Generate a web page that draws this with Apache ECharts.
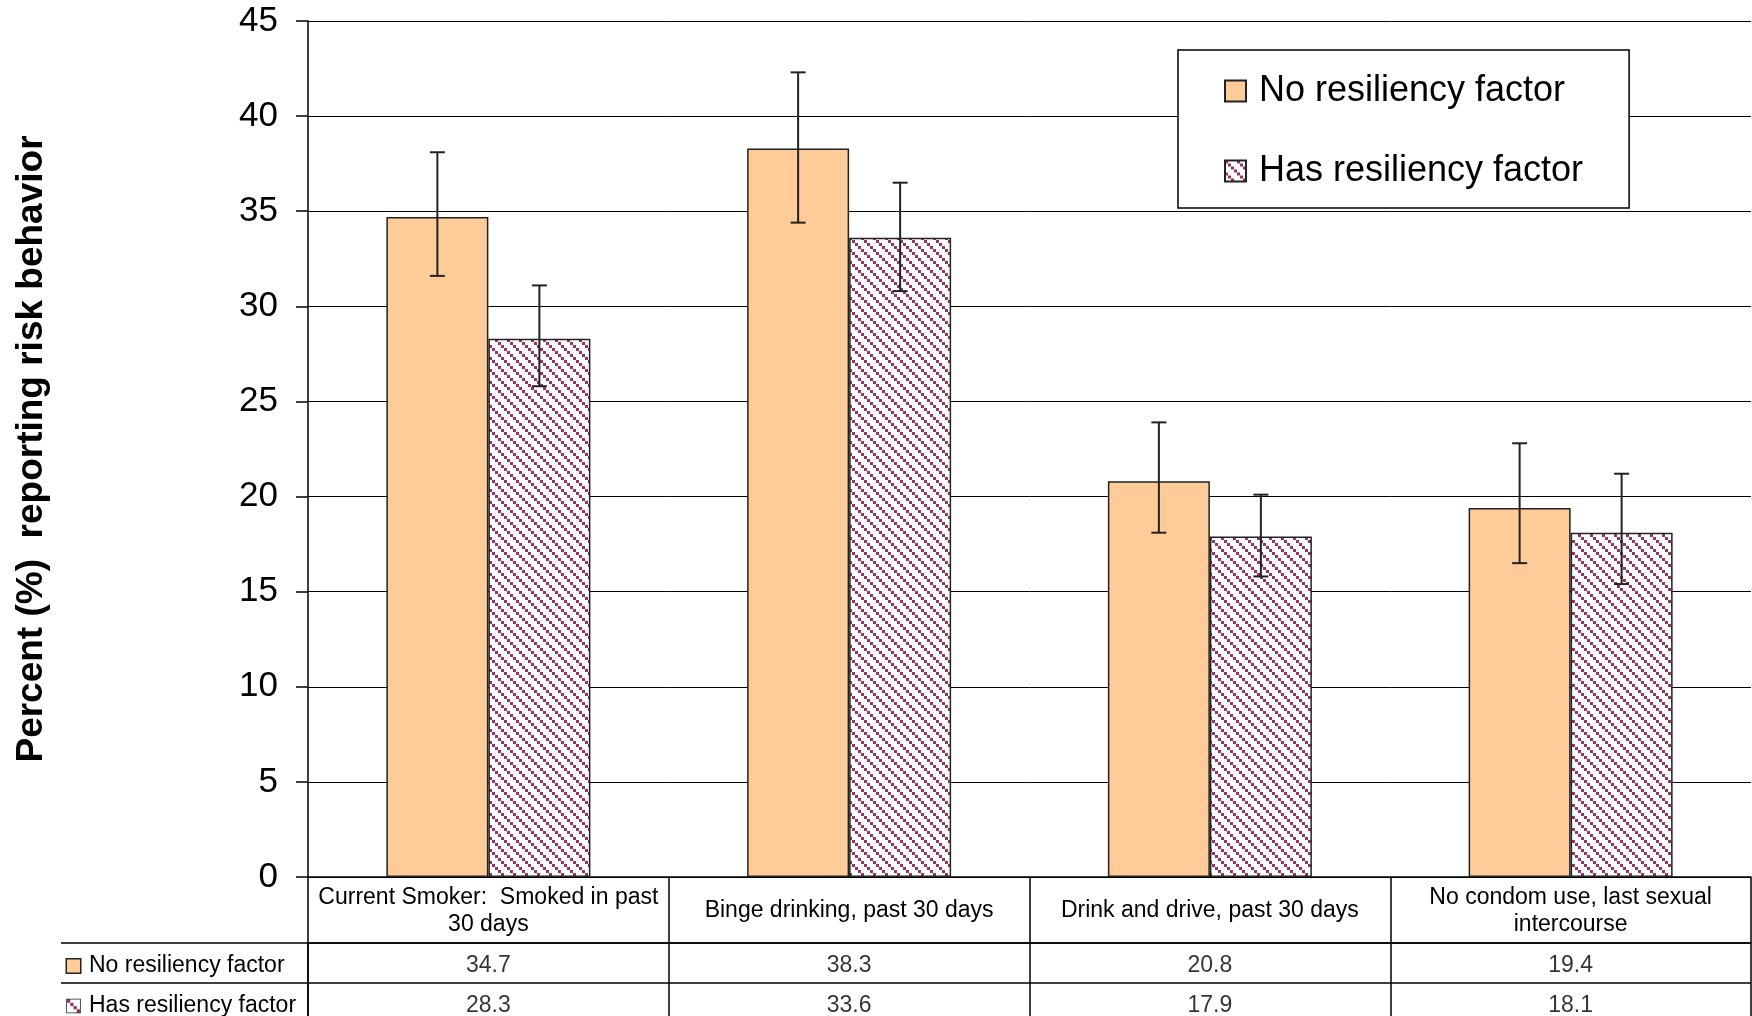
<!DOCTYPE html>
<html>
<head>
<meta charset="utf-8">
<script src="https://cdn.jsdelivr.net/npm/echarts@6/dist/echarts.min.js"></script>
<style>
  html, body { margin: 0; padding: 0; background: #fff; }
  #chart { width: 1752px; height: 1016px; }
</style>
</head>
<body>
<div id="chart"></div>
<script>
    // ---------------------------------------------------------------------------
    // data
    const categories = [
        'Current Smoker:  Smoked in past\n30 days',
        'Binge drinking, past 30 days',
        'Drink and drive, past 30 days',
        'No condom use, last sexual\nintercourse'
    ];
    const seriesNames = ['No resiliency factor', 'Has resiliency factor'];
    const noFactor = [34.7, 38.3, 20.8, 19.4];
    const hasFactor = [28.3, 33.6, 17.9, 18.1];
    // error bar ends (confidence interval)
    const noFactorLow = [31.6, 34.4, 18.1, 16.5];
    const noFactorHigh = [38.1, 42.3, 23.9, 22.8];
    const hasFactorLow = [25.8, 30.8, 15.8, 15.4];
    const hasFactorHigh = [31.1, 36.5, 20.1, 21.2];
    const yMin = 0, yMax = 45, yStep = 5;

    // ---------------------------------------------------------------------------
    const FONT = '"Liberation Sans", Arial, sans-serif';
    const BAR_W = 102;
    const ORANGE = '#FFCC99';
    const PLUM = '#993366';
    const EDGE = '#222';

    // diagonal hatch made of small squares, like the excel pattern fill
    function makeHatch() {
        let c = document.createElement('canvas');
        c.width = 12; c.height = 12;
        let ctx = c.getContext('2d');
        ctx.fillStyle = '#fff';
        ctx.fillRect(0, 0, 12, 12);
        ctx.fillStyle = PLUM;
        [0, 3, 6, 9].forEach(d => ctx.fillRect(d, d, 3, 3));
        return c;
    }
    const hatch = makeHatch();

    function errorBars(low, high, side) {
        return {
            type: 'custom',
            xAxisIndex: 0,
            yAxisIndex: 0,
            z: 10,
            silent: true,
            encode: {x: 0, y: [1, 2]},
            data: low.map((l, i) => [i, l, high[i]]),
            renderItem: function (params, api) {
                let x = api.coord([api.value(0), 0])[0] + side * BAR_W / 2;
                let top = api.coord([api.value(0), api.value(2)])[1];
                let bot = api.coord([api.value(0), api.value(1)])[1];
                let c = 7.5;
                let st = {stroke: EDGE, lineWidth: 2};
                return {
                    type: 'group',
                    children: [
                        {type: 'line', shape: {x1: x, y1: top, x2: x, y2: bot}, style: st},
                        {type: 'line', shape: {x1: x - c, y1: top, x2: x + c, y2: top}, style: st},
                        {type: 'line', shape: {x1: x - c, y1: bot, x2: x + c, y2: bot}, style: st}
                    ]
                };
            }
        };
    }

    // value cells of the data table
    let cells = [];
    noFactor.forEach((v, i) => cells.push([i, 0, v]));
    hasFactor.forEach((v, i) => cells.push([i, 1, v]));

    let chart = echarts.init(document.getElementById('chart'), null, {renderer: 'canvas'});

    chart.setOption({
        animation: false,
        backgroundColor: '#fff',
        textStyle: {fontFamily: FONT, color: '#000'},
        grid: [
            {left: 308, top: 21, width: 1443, height: 856, containLabel: false, outerBoundsMode: 'none'},
            {left: 308, top: 943, width: 1443, height: 80, containLabel: false, outerBoundsMode: 'none'}
        ],
        legend: {
            data: seriesNames,
            orient: 'vertical',
            left: 1178,
            top: 50,
            icon: 'rect',
            itemWidth: 21,
            itemHeight: 21,
            itemGap: 44,
            padding: [23, 46, 19, 46],
            borderColor: '#000',
            borderWidth: 1.5,
            borderRadius: 0,
            backgroundColor: '#fff',
            textStyle: {fontSize: 36, color: '#000', fontFamily: FONT, padding: [0, 0, 0, 8]}
        },
        xAxis: [
            {
                type: 'category',
                gridIndex: 0,
                data: categories,
                axisLine: {show: true, lineStyle: {color: '#000', width: 1.5}},
                axisTick: {show: true, length: 66, alignWithLabel: false, interval: 0, lineStyle: {color: '#000', width: 1.5}},
                axisLabel: {
                    interval: 0, fontSize: 23, lineHeight: 27, color: '#000',
                    verticalAlign: 'middle', align: 'center', margin: 34, fontFamily: FONT
                },
                splitLine: {show: false}
            },
            {
                type: 'category',
                gridIndex: 1,
                position: 'top',
                data: categories,
                axisLine: {show: true, lineStyle: {color: '#000', width: 1.5}},
                axisTick: {show: false},
                axisLabel: {show: false},
                splitLine: {show: true, interval: 0, lineStyle: {color: '#000', width: 1.5}}
            }
        ],
        yAxis: [
            {
                type: 'value',
                gridIndex: 0,
                min: yMin,
                max: yMax,
                interval: yStep,
                name: 'Percent (%)  reporting risk behavior',
                nameLocation: 'middle',
                nameRotate: 90,
                nameGap: 258,
                nameTextStyle: {fontSize: 37, fontWeight: 'bold', color: '#000', fontFamily: FONT},
                axisLine: {show: true, lineStyle: {color: '#000', width: 1.5}},
                axisTick: {show: true, length: 12, lineStyle: {color: '#000', width: 1.5}},
                axisLabel: {fontSize: 35, color: '#000', margin: 30, fontFamily: FONT},
                splitLine: {show: true, lineStyle: {color: '#000', width: 1}}
            },
            {
                type: 'category',
                gridIndex: 1,
                inverse: true,
                data: seriesNames,
                axisLine: {show: true, lineStyle: {color: '#000', width: 1.5}},
                axisTick: {show: true, length: 247, alignWithLabel: false, interval: 0, lineStyle: {color: '#000', width: 1.5}},
                axisLabel: {
                    interval: 0, align: 'left', margin: 241, fontSize: 23, color: '#000', fontFamily: FONT,
                    padding: [6, 0, 0, 0],
                    formatter: (v, i) => '{' + (i === 0 ? 'a' : 'b') + '|}{g|}' + v,
                    rich: {
                        a: {width: 13, height: 13, backgroundColor: ORANGE, borderColor: EDGE, borderWidth: 1.5},
                        b: {width: 13, height: 13, backgroundColor: {image: hatch}, borderColor: EDGE, borderWidth: 1.5},
                        g: {width: 9}
                    }
                },
                splitLine: {show: true, interval: 0, lineStyle: {color: '#000', width: 1.5}}
            },
            {
                // left border of the row label column
                type: 'category',
                gridIndex: 1,
                inverse: true,
                data: seriesNames,
                offset: 247,
                axisLine: {show: true, lineStyle: {color: '#000', width: 1.5}},
                axisTick: {show: false},
                axisLabel: {show: false},
                splitLine: {show: false}
            }
        ],
        series: [
            {
                name: seriesNames[0],
                type: 'bar',
                xAxisIndex: 0,
                yAxisIndex: 0,
                barWidth: BAR_W,
                barGap: '0%',
                data: noFactor,
                itemStyle: {color: ORANGE, borderColor: EDGE, borderWidth: 1.5}
            },
            {
                name: seriesNames[1],
                type: 'bar',
                xAxisIndex: 0,
                yAxisIndex: 0,
                barWidth: BAR_W,
                barGap: '0%',
                data: hasFactor,
                itemStyle: {color: {image: hatch, repeat: 'repeat'}, borderColor: EDGE, borderWidth: 1.5}
            },
            errorBars(noFactorLow, noFactorHigh, -1),
            errorBars(hasFactorLow, hasFactorHigh, 1),
            {
                type: 'scatter',
                xAxisIndex: 1,
                yAxisIndex: 1,
                symbolSize: 0,
                silent: true,
                data: cells,
                label: {
                    show: true, position: 'inside', offset: [0, 3], fontSize: 23, color: '#000', fontFamily: FONT,
                    formatter: p => String(p.value[2])
                }
            }
        ]
    });
</script>
</body>
</html>
